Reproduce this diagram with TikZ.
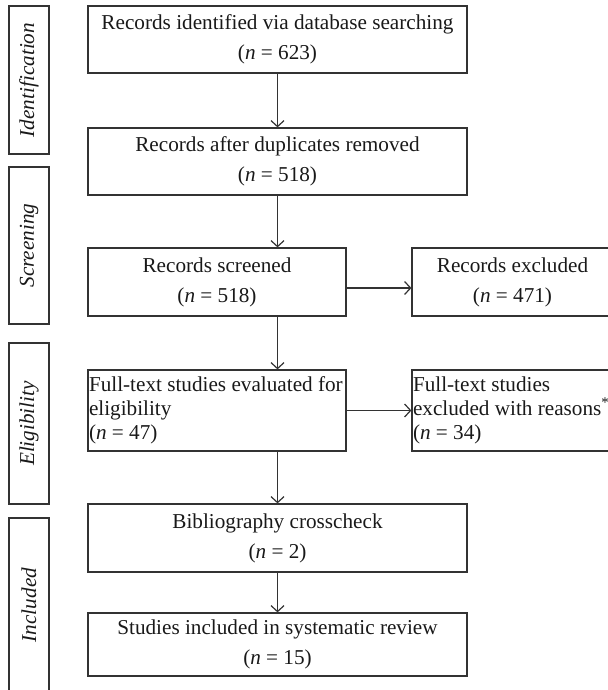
\documentclass[tikz,border=0pt]{standalone}
\usepackage{fontspec}
\setmainfont{Liberation Serif}
\usetikzlibrary{arrows.meta}
\begin{document}
\begin{tikzpicture}[x=0.5pt, y=-0.5pt, -{Straight Barb[length=3pt,width=6.5pt]}, draw=black!80, line width=.6pt]
\useasboundingbox (0,0) rectangle (608,690);
\tikzstyle{every node} = [rectangle, draw=black!80, line width=.6pt, text=black!90, font=\fontsize{10.6}{15}\selectfont, align=center, inner sep=1pt]
\tikzstyle{wide} = [minimum width=189.5pt, minimum height=33.5pt]
\tikzstyle{narrow} = [minimum width=129pt, minimum height=34pt]
\tikzstyle{side} = [minimum width=100.5pt, minimum height=34pt]
\tikzstyle{tight} = [font=\fontsize{10.6}{12}\selectfont, align=flush left, minimum height=40.5pt, inner xsep=.5pt]
\tikzstyle{stage} = [rotate=90, minimum height=20pt, font=\itshape\fontsize{10.6}{15}\selectfont]
\node[wide] (1) at (277.5,39.5) {Records identified via database searching\\(\textit{n} = 623)};
\node[wide] (2) at (277.5,161.5) {Records after duplicates removed\\(\textit{n} = 518)};
\node[narrow] (3) at (217,282) {Records screened\\(\textit{n} = 518)};
\node[side] (4) at (512.5,282) {Records excluded\\(\textit{n} = 471)};
\node[narrow, tight, text width=128pt] (5) at (217,410.5) {\mbox{Full-text studies evaluated for}\\eligibility\\(\textit{n} = 47)};
\node[side, tight, text width=99.5pt] (6) at (512.5,410.5) {Full-text studies\\\mbox{excluded with reasons\textsuperscript{*}}\\(\textit{n} = 34)};
\node[wide, minimum height=34pt] (7) at (277.5,538) {Bibliography crosscheck\\(\textit{n} = 2)};
\node[wide, minimum height=31.5pt] (8) at (277.5,644.5) {Studies included in systematic review\\(\textit{n} = 15)};
\node[stage, minimum width=74pt] (9) at (29,80) {Identification};
\node[stage, minimum width=78.5pt] (10) at (29,245.5) {Screening};
\node[stage, minimum width=80.5pt] (11) at (29,423.5) {Eligibility};
\node[stage, minimum width=87pt] (12) at (29,605) {Included};
\tikzstyle{every node} = []
\draw (1) -- (2);
\draw (2) -- (2.south |- 3.north);
\draw (3.south -| 2.south) -- (5.north -| 2.south);
\draw (5.south -| 2.south) -- (7);
\draw (7) -- (8);
\draw ([yshift=-3pt]3.east) -- ([yshift=-3pt]4.west);
\draw (5) -- (6);
\end{tikzpicture}
\end{document}
